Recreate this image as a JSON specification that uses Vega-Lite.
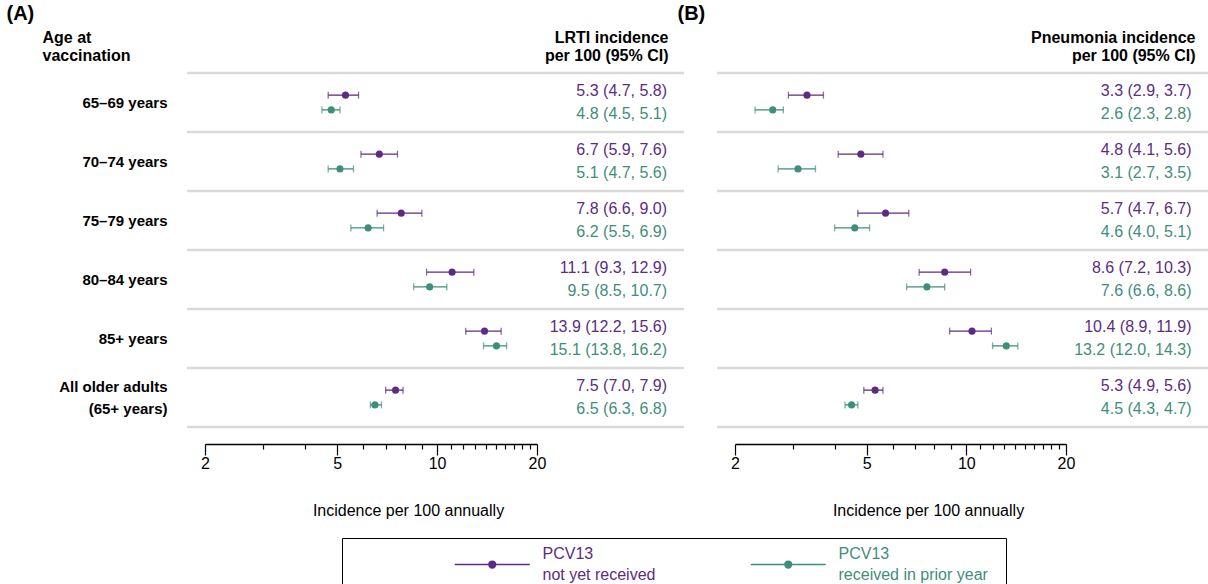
{
  "$schema": "https://vega.github.io/schema/vega-lite/v6.json",
  "bounds": "flush",
  "padding": {"left": 6, "top": 3, "right": 0, "bottom": 0},
  "config": {"view": {"stroke": null}, "font": "Liberation Sans"},
  "datasets": {
    "lrti": [
      {"group": "65–69 years", "series": "P", "est": 5.3, "lo": 4.7, "hi": 5.8, "lab": "5.3 (4.7, 5.8)"},
      {"group": "65–69 years", "series": "T", "est": 4.8, "lo": 4.5, "hi": 5.1, "lab": "4.8 (4.5, 5.1)"},
      {"group": "70–74 years", "series": "P", "est": 6.7, "lo": 5.9, "hi": 7.6, "lab": "6.7 (5.9, 7.6)"},
      {"group": "70–74 years", "series": "T", "est": 5.1, "lo": 4.7, "hi": 5.6, "lab": "5.1 (4.7, 5.6)"},
      {"group": "75–79  years", "series": "P", "est": 7.8, "lo": 6.6, "hi": 9.0, "lab": "7.8 (6.6, 9.0)"},
      {"group": "75–79  years", "series": "T", "est": 6.2, "lo": 5.5, "hi": 6.9, "lab": "6.2 (5.5, 6.9)"},
      {"group": "80–84 years", "series": "P", "est": 11.1, "lo": 9.3, "hi": 12.9, "lab": "11.1 (9.3, 12.9)"},
      {"group": "80–84 years", "series": "T", "est": 9.5, "lo": 8.5, "hi": 10.7, "lab": "9.5 (8.5, 10.7)"},
      {"group": "85+ years", "series": "P", "est": 13.9, "lo": 12.2, "hi": 15.6, "lab": "13.9 (12.2, 15.6)"},
      {"group": "85+ years", "series": "T", "est": 15.1, "lo": 13.8, "hi": 16.2, "lab": "15.1 (13.8, 16.2)"},
      {"group": "All older adults (65+ years)", "series": "P", "est": 7.5, "lo": 7.0, "hi": 7.9, "lab": "7.5 (7.0, 7.9)"},
      {"group": "All older adults (65+ years)", "series": "T", "est": 6.5, "lo": 6.3, "hi": 6.8, "lab": "6.5 (6.3, 6.8)"}
    ],
    "pneu": [
      {"group": "65–69 years", "series": "P", "est": 3.3, "lo": 2.9, "hi": 3.7, "lab": "3.3 (2.9, 3.7)"},
      {"group": "65–69 years", "series": "T", "est": 2.6, "lo": 2.3, "hi": 2.8, "lab": "2.6 (2.3, 2.8)"},
      {"group": "70–74 years", "series": "P", "est": 4.8, "lo": 4.1, "hi": 5.6, "lab": "4.8 (4.1, 5.6)"},
      {"group": "70–74 years", "series": "T", "est": 3.1, "lo": 2.7, "hi": 3.5, "lab": "3.1 (2.7, 3.5)"},
      {"group": "75–79  years", "series": "P", "est": 5.7, "lo": 4.7, "hi": 6.7, "lab": "5.7 (4.7, 6.7)"},
      {"group": "75–79  years", "series": "T", "est": 4.6, "lo": 4.0, "hi": 5.1, "lab": "4.6 (4.0, 5.1)"},
      {"group": "80–84 years", "series": "P", "est": 8.6, "lo": 7.2, "hi": 10.3, "lab": "8.6 (7.2, 10.3)"},
      {"group": "80–84 years", "series": "T", "est": 7.6, "lo": 6.6, "hi": 8.6, "lab": "7.6 (6.6, 8.6)"},
      {"group": "85+ years", "series": "P", "est": 10.4, "lo": 8.9, "hi": 11.9, "lab": "10.4 (8.9, 11.9)"},
      {"group": "85+ years", "series": "T", "est": 13.2, "lo": 12.0, "hi": 14.3, "lab": "13.2 (12.0, 14.3)"},
      {"group": "All older adults (65+ years)", "series": "P", "est": 5.3, "lo": 4.9, "hi": 5.6, "lab": "5.3 (4.9, 5.6)"},
      {"group": "All older adults (65+ years)", "series": "T", "est": 4.5, "lo": 4.3, "hi": 4.7, "lab": "4.5 (4.3, 4.7)"}
    ]
  },
  "spacing": 33,
  "hconcat": [
    {
      "width": 497,
      "height": 354,
      "data": {"name": "lrti"},
      "resolve": {"axis": {"x": "independent"}},
      "layer": [
        {
          "transform": [{"filter": "datum.series == 'P'"}],
          "mark": {"type": "rule", "color": "#d9d9d9", "strokeWidth": 2.5},
          "encoding": {
            "y": {"field": "group", "type": "nominal", "bandPosition": 0,
              "scale": {"domain": ["65–69 years", "70–74 years", "75–79  years", "80–84 years", "85+ years", "All older adults (65+ years)"], "paddingInner": 0, "paddingOuter": 0},
              "axis": {"domain": false, "ticks": false, "labelPadding": 20, "labelFontSize": 15, "labelFontWeight": "bold", "labelColor": "#000", "labelLineHeight": 22,
                "labelOffset": {"condition": {"test": "datum.value == 'All older adults (65+ years)'", "value": -11}, "value": 0},
                "labelExpr": "datum.value == 'All older adults (65+ years)' ? ['All older adults', '(65+ years)'] : datum.label",
                "title": ["Age at", "vaccination"], "titleAngle": 0, "titleX": -145, "titleY": -44, "titleAlign": "left", "titleBaseline": "top", "titleFontSize": 16, "titleFontWeight": "bold", "titleColor": "#000", "titleLineHeight": 18}}
          }
        },
        {
          "transform": [{"filter": "datum.series == 'P' && datum.group == 'All older adults (65+ years)'"}],
          "mark": {"type": "rule", "color": "#d9d9d9", "strokeWidth": 2.5},
          "encoding": {"y": {"field": "group", "type": "nominal", "bandPosition": 1}}
        },
        {
          "mark": {"type": "rule", "strokeWidth": 1.3},
          "encoding": {
            "x": {"field": "lo", "type": "quantitative", "scale": {"type": "log", "domain": [2, 20], "range": [18, 350], "nice": false},
              "axis": {"orient": "bottom", "offset": 17, "values": [2, 5, 10, 20], "format": "d", "tickSize": 11, "tickWidth": 1.2, "tickColor": "#000", "domain": true, "domainColor": "#000", "domainWidth": 1.3, "labelFontSize": 16, "labelColor": "#000", "labelPadding": 0, "labelFlush": false, "labelOverlap": false, "grid": false,
                "title": "Incidence per 100 annually", "titleFontSize": 16, "titleFontWeight": "normal", "titleColor": "#000", "titleX": 221, "titleY": 66, "titleAlign": "center", "titleBaseline": "middle"}},
            "x2": {"field": "hi"},
            "y": {"field": "group", "type": "nominal"},
            "yOffset": {"field": "series", "type": "nominal", "scale": {"domain": ["P", "T"], "paddingInner": 0, "paddingOuter": 1.458}},
            "color": {"field": "series", "type": "nominal", "scale": {"domain": ["P", "T"], "range": ["#5b2c83", "#3f8e7b"]}}
          }
        },
        {
          "mark": {"type": "tick", "size": 7, "thickness": 1.3},
          "encoding": {
            "x": {"field": "lo", "type": "quantitative", "scale": {"type": "log", "domain": [2, 20], "range": [18, 350], "nice": false},
              "axis": {"orient": "bottom", "offset": 17, "values": [3, 4, 6, 7, 8, 9, 11, 12, 13, 14, 15, 16, 17, 18, 19], "tickSize": 5, "tickWidth": 1.2, "tickColor": "#000", "domain": false, "labels": false, "grid": false, "title": null}},
            "y": {"field": "group", "type": "nominal"},
            "yOffset": {"field": "series", "type": "nominal"},
            "color": {"field": "series", "type": "nominal"}
          }
        },
        {
          "mark": {"type": "tick", "size": 7, "thickness": 1.3},
          "encoding": {
            "x": {"field": "hi", "type": "quantitative", "scale": {"type": "log", "domain": [2, 20], "range": [18, 350], "nice": false},
              "axis": {"orient": "top", "domain": false, "ticks": false, "labels": false, "grid": false,
                "title": ["LRTI incidence", "per 100 (95% CI)"], "titleX": 481, "titleY": -44, "titleAlign": "right", "titleBaseline": "top", "titleFontSize": 16, "titleFontWeight": "bold", "titleColor": "#000", "titleLineHeight": 18}},
            "y": {"field": "group", "type": "nominal"},
            "yOffset": {"field": "series", "type": "nominal"},
            "color": {"field": "series", "type": "nominal"}
          }
        },
        {
          "mark": {"type": "point", "filled": true, "size": 50, "opacity": 1},
          "encoding": {
            "x": {"field": "est", "type": "quantitative", "scale": {"type": "log", "domain": [2, 20], "range": [18, 350], "nice": false},
              "axis": {"orient": "top", "domain": false, "ticks": false, "labels": false, "grid": false,
                "title": "(A)", "titleX": -181, "titleY": -70, "titleAlign": "left", "titleBaseline": "top", "titleFontSize": 20, "titleFontWeight": "bold", "titleColor": "#000"}},
            "y": {"field": "group", "type": "nominal"},
            "yOffset": {"field": "series", "type": "nominal"},
            "color": {"field": "series", "type": "nominal",
              "legend": {"title": null, "orient": "none", "legendX": 155, "legendY": 465, "direction": "horizontal", "strokeColor": "#000", "padding": 18,
                "symbolType": "M-5,0H5M0.45,0A0.45,0.45,0,1,1,-0.45,0A0.45,0.45,0,1,1,0.45,0",
                "symbolSize": 225, "symbolStrokeWidth": 1.5, "symbolOpacity": 1, "symbolOffset": 123.75, "labelOffset": 41.75, "columnPadding": 0, "labelFontSize": 16, "labelLimit": 400,
                "encode": {
                  "labels": {"update": {
                    "text": {"signal": "datum.value == 'P' ? ['PCV13', 'not yet received'] : ['PCV13', 'received in prior year']"},
                    "fill": {"scale": "color", "field": "value"},
                    "lineHeight": {"value": 21},
                    "dy": {"value": -10.5}}}
                }}}
          }
        },
        {
          "transform": [{"filter": "datum.series == 'P'"}],
          "mark": {"type": "text", "align": "right", "baseline": "middle", "dy": -11.5, "fontSize": 16},
          "encoding": {
            "x": {"datum": 49.3, "type": "quantitative", "scale": {"type": "log", "domain": [2, 20], "range": [18, 350], "nice": false}, "axis": null},
            "y": {"field": "group", "type": "nominal"},
            "text": {"field": "lab"},
            "color": {"field": "series", "type": "nominal"}
          }
        },
        {
          "transform": [{"filter": "datum.series == 'T'"}],
          "mark": {"type": "text", "align": "right", "baseline": "middle", "dy": 11.5, "fontSize": 16},
          "encoding": {
            "x": {"datum": 49.3, "type": "quantitative", "scale": {"type": "log", "domain": [2, 20], "range": [18, 350], "nice": false}, "axis": null},
            "y": {"field": "group", "type": "nominal"},
            "text": {"field": "lab"},
            "color": {"field": "series", "type": "nominal"}
          }
        }
      ]
    },
    {
      "width": 491,
      "height": 354,
      "data": {"name": "pneu"},
      "resolve": {"axis": {"x": "independent"}},
      "layer": [
        {
          "transform": [{"filter": "datum.series == 'P'"}],
          "mark": {"type": "rule", "color": "#d9d9d9", "strokeWidth": 2.5},
          "encoding": {
            "y": {"field": "group", "type": "nominal", "bandPosition": 0,
              "scale": {"domain": ["65–69 years", "70–74 years", "75–79  years", "80–84 years", "85+ years", "All older adults (65+ years)"], "paddingInner": 0, "paddingOuter": 0},
              "axis": null}
          }
        },
        {
          "transform": [{"filter": "datum.series == 'P' && datum.group == 'All older adults (65+ years)'"}],
          "mark": {"type": "rule", "color": "#d9d9d9", "strokeWidth": 2.5},
          "encoding": {"y": {"field": "group", "type": "nominal", "bandPosition": 1, "axis": null}}
        },
        {
          "mark": {"type": "rule", "strokeWidth": 1.3},
          "encoding": {
            "x": {"field": "lo", "type": "quantitative", "scale": {"type": "log", "domain": [2, 20], "range": [18, 349], "nice": false},
              "axis": {"orient": "bottom", "offset": 17, "values": [2, 5, 10, 20], "format": "d", "tickSize": 11, "tickWidth": 1.2, "tickColor": "#000", "domain": true, "domainColor": "#000", "domainWidth": 1.3, "labelFontSize": 16, "labelColor": "#000", "labelPadding": 0, "labelFlush": false, "labelOverlap": false, "grid": false,
                "title": "Incidence per 100 annually", "titleFontSize": 16, "titleFontWeight": "normal", "titleColor": "#000", "titleX": 211, "titleY": 66, "titleAlign": "center", "titleBaseline": "middle"}},
            "x2": {"field": "hi"},
            "y": {"field": "group", "type": "nominal", "axis": null},
            "yOffset": {"field": "series", "type": "nominal", "scale": {"domain": ["P", "T"], "paddingInner": 0, "paddingOuter": 1.458}},
            "color": {"field": "series", "type": "nominal"}
          }
        },
        {
          "mark": {"type": "tick", "size": 7, "thickness": 1.3},
          "encoding": {
            "x": {"field": "lo", "type": "quantitative", "scale": {"type": "log", "domain": [2, 20], "range": [18, 349], "nice": false},
              "axis": {"orient": "bottom", "offset": 17, "values": [3, 4, 6, 7, 8, 9, 11, 12, 13, 14, 15, 16, 17, 18, 19], "tickSize": 5, "tickWidth": 1.2, "tickColor": "#000", "domain": false, "labels": false, "grid": false, "title": null}},
            "y": {"field": "group", "type": "nominal", "axis": null},
            "yOffset": {"field": "series", "type": "nominal"},
            "color": {"field": "series", "type": "nominal"}
          }
        },
        {
          "mark": {"type": "tick", "size": 7, "thickness": 1.3},
          "encoding": {
            "x": {"field": "hi", "type": "quantitative", "scale": {"type": "log", "domain": [2, 20], "range": [18, 349], "nice": false},
              "axis": {"orient": "top", "domain": false, "ticks": false, "labels": false, "grid": false,
                "title": ["Pneumonia incidence", "per 100 (95% CI)"], "titleX": 478, "titleY": -44, "titleAlign": "right", "titleBaseline": "top", "titleFontSize": 16, "titleFontWeight": "bold", "titleColor": "#000", "titleLineHeight": 18}},
            "y": {"field": "group", "type": "nominal", "axis": null},
            "yOffset": {"field": "series", "type": "nominal"},
            "color": {"field": "series", "type": "nominal"}
          }
        },
        {
          "mark": {"type": "point", "filled": true, "size": 50, "opacity": 1},
          "encoding": {
            "x": {"field": "est", "type": "quantitative", "scale": {"type": "log", "domain": [2, 20], "range": [18, 349], "nice": false},
              "axis": {"orient": "top", "domain": false, "ticks": false, "labels": false, "grid": false,
                "title": "(B)", "titleX": -40, "titleY": -70, "titleAlign": "left", "titleBaseline": "top", "titleFontSize": 20, "titleFontWeight": "bold", "titleColor": "#000"}},
            "y": {"field": "group", "type": "nominal", "axis": null},
            "yOffset": {"field": "series", "type": "nominal"},
            "color": {"field": "series", "type": "nominal"}
          }
        },
        {
          "transform": [{"filter": "datum.series == 'P'"}],
          "mark": {"type": "text", "align": "right", "baseline": "middle", "dy": -11.5, "fontSize": 16},
          "encoding": {
            "x": {"datum": 47.9, "type": "quantitative", "scale": {"type": "log", "domain": [2, 20], "range": [18, 349], "nice": false}, "axis": null},
            "y": {"field": "group", "type": "nominal", "axis": null},
            "text": {"field": "lab"},
            "color": {"field": "series", "type": "nominal"}
          }
        },
        {
          "transform": [{"filter": "datum.series == 'T'"}],
          "mark": {"type": "text", "align": "right", "baseline": "middle", "dy": 11.5, "fontSize": 16},
          "encoding": {
            "x": {"datum": 47.9, "type": "quantitative", "scale": {"type": "log", "domain": [2, 20], "range": [18, 349], "nice": false}, "axis": null},
            "y": {"field": "group", "type": "nominal", "axis": null},
            "text": {"field": "lab"},
            "color": {"field": "series", "type": "nominal"}
          }
        }
      ]
    }
  ]
}
